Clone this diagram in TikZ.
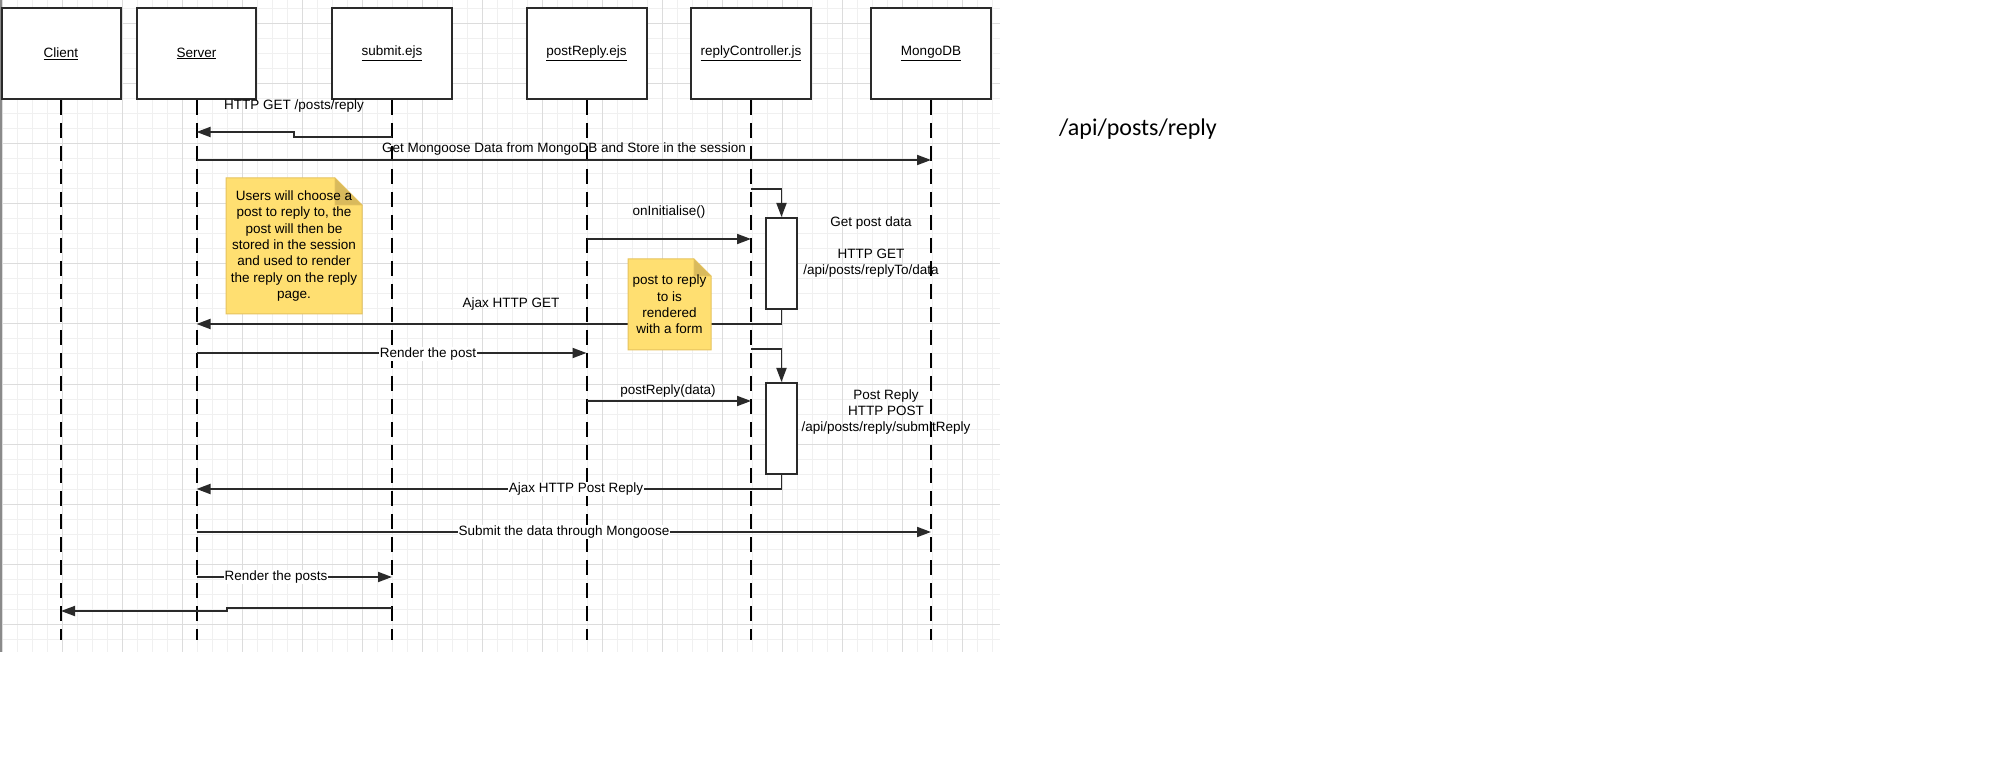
\documentclass[tikz,border=0pt]{standalone}
\usepackage{fontspec}
\setmainfont{Liberation Sans}
\newfontfamily\titlefont{Carlito}
\usetikzlibrary{arrows.meta}
\definecolor{ink}{HTML}{2A2A2A}
\definecolor{gridminor}{HTML}{F0F0F0}
\definecolor{gridmajor}{HTML}{DCDCDC}
\definecolor{notefill}{HTML}{FFDF71}
\definecolor{noteedge}{HTML}{E6C35E}
\definecolor{notefold}{HTML}{D9BA5C}
\definecolor{edgegray}{HTML}{8A8A8A}
\begin{document}
\begin{tikzpicture}[x=1pt,y=-1pt,
  lbl/.style={font=\fontsize{13.5}{16.3}\selectfont, inner sep=1pt, text=black, yshift=-2pt},
  onlbl/.style={lbl, fill=white, inner xsep=0.5pt},
  actor/.style={draw=ink, line width=2pt, fill=white, minimum height=91pt, inner sep=0pt,
    font=\fontsize{13.5}{16}\selectfont},
  lifeline/.style={line width=2pt, dash pattern=on 15pt off 8pt, black},
  msg/.style={draw=ink, line width=1.8pt, -{Triangle[length=14pt,width=10pt]}},
  activation/.style={draw=ink, line width=2pt, fill=white, minimum width=31pt, minimum height=91pt, inner sep=0pt},
  notetext/.style={lbl, align=center, inner sep=0pt},
  noteshape/.style={fill=notefill, draw=noteedge, line width=1pt},
  notefoldshape/.style={fill=notefold, draw=noteedge, line width=0.6pt}
]
\useasboundingbox (0,0) rectangle (2014,767);
\fill[white] (0,0) rectangle (2014,767);
% grid
\foreach \i in {0,...,66} \draw[gridminor, line width=1pt] ({2+15*\i},0) -- ({2+15*\i},652);
\foreach \j in {0,...,42} \draw[gridminor, line width=1pt] (0,{9+15*\j}) -- (1000,{9+15*\j});
\foreach \i in {0,...,16} \draw[gridmajor, line width=1pt] ({2+60*\i},0) -- ({2+60*\i},652);
\foreach \j in {0,...,10} \draw[gridmajor, line width=1pt] (0,{24+60*\j}) -- (1000,{24+60*\j});
\draw[edgegray, line width=2pt] (1,0) -- (1,652);
% actors
\node[actor, minimum width=119pt] (client) at (61,53.5) {\underline{Client}};
\node[actor, minimum width=119pt] (server) at (196.5,53.5) {\underline{Server}};
\node[actor, minimum width=120pt] (submit) at (392,53.5) {\underline{submit.ejs}};
\node[actor, minimum width=120pt] (postreply) at (586.5,53.5) {\underline{postReply.ejs}};
\node[actor, minimum width=120pt] (ctrl) at (751,53.5) {\underline{replyController.js}};
\node[actor, minimum width=120pt] (mongo) at (931,53.5) {\underline{MongoDB}};
% lifelines
\foreach \n in {client,server,submit,postreply,ctrl,mongo}
  \draw[lifeline] (\n.south) -- (\n.south |- 0,640);
% activations
\node[activation] (act1) at (781.5,263.5) {};
\node[activation] (act2) at (781.5,428.5) {};
% messages
\draw[msg] (submit |- 0,137) -- (294,137) -- (294,132) -- (server |- 0,132);
\node[lbl] (m1) at (294,104) {HTTP GET /posts/reply};
\draw[msg] (server |- 0,160) -- (mongo |- 0,160);
\node[lbl] (m2) at (564,147) {Get Mongoose Data from MongoDB and Store in the session};
\draw[msg] (ctrl |- 0,189) -| (act1.north);
\draw[msg] (postreply |- 0,239) -- (ctrl |- 0,239);
\node[lbl] (m3) at (669,210) {onInitialise()};
\node[lbl, align=center] (m4) at (871,245) {Get post data\\[16.3pt]HTTP GET\\/api/posts/replyTo/data};
\draw[msg] (act1.south) |- (server |- 0,324);
\node[lbl] (m5) at (511,302) {Ajax HTTP GET};
\draw[msg] (server |- 0,353) -- (postreply |- 0,353);
\node[onlbl] (m6) at (428,352) {Render the post};
\draw[msg] (ctrl |- 0,349) -| (act2.north);
\draw[msg] (postreply |- 0,401) -- (ctrl |- 0,401);
\node[lbl] (m7) at (668,389) {postReply(data)};
\node[lbl, align=center] (m8) at (886,410) {Post Reply\\HTTP POST\\/api/posts/reply/submitReply};
\draw[msg] (act2.south) |- (server |- 0,489);
\node[onlbl] (m9) at (576,487) {Ajax HTTP Post Reply};
\draw[msg] (server |- 0,532) -- (mongo |- 0,532);
\node[onlbl] (m10) at (564,530) {Submit the data through Mongoose};
\draw[msg] (server |- 0,577) -- (submit |- 0,577);
\node[onlbl] (m11) at (276,575) {Render the posts};
\draw[msg] (submit |- 0,608) -- (227,608) -- (227,611) -- (client |- 0,611);
% notes
\path[noteshape] (226,178) -- (335,178) -- (362,205) -- (362,314) -- (226,314) -- cycle;
\path[notefoldshape] (335,178) -- (335,205) -- (362,205) -- cycle;
\node[notetext] (note1) at (294,244) {Users will choose a\\post to reply to, the\\post will then be\\stored in the session\\and used to render\\the reply on the reply\\page.};
\path[noteshape] (628,259) -- (694,259) -- (711,276) -- (711,350) -- (628,350) -- cycle;
\path[notefoldshape] (694,259) -- (694,276) -- (711,276) -- cycle;
\node[notetext] (note2) at (669.5,302.5) {post to reply\\to is\\rendered\\with a form};
% title
\node[font=\titlefont\fontsize{24}{28}\selectfont, text=black, inner sep=0pt] (title) at (1138,129.5) {/api/posts/reply};
\end{tikzpicture}
\end{document}
